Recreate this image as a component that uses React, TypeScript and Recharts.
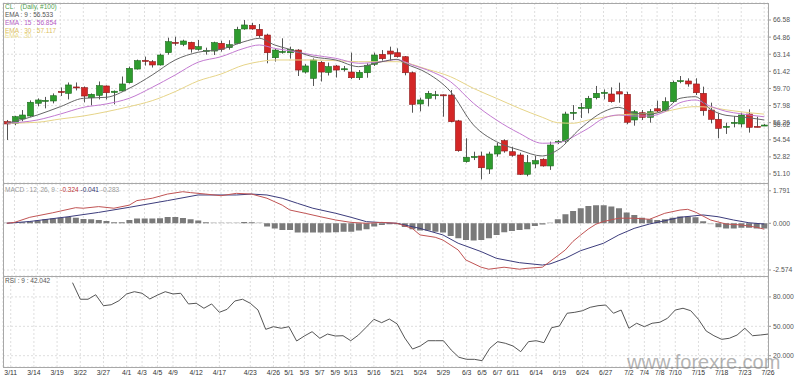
// CL 日线：K线 + EMA，MACD，RSI 三联图
import { ComposedChart, Bar, Line, XAxis, YAxis, CartesianGrid, ReferenceLine, Cell } from 'recharts';

const tickIdx = [1, 4, 7, 10, 13, 16, 18, 20, 22, 25, 28, 32, 35, 37, 39, 41, 43, 45, 48, 51, 54, 57, 60, 62, 64, 66, 69, 72, 75, 78, 81, 83, 85, 87, 90, 93, 96, 99];
const tickLabels = ['3/11', '3/14', '3/19', '3/22', '3/27', '4/1', '4/3', '4/5', '4/9', '4/12', '4/17', '4/23', '4/26', '5/1', '5/3', '5/7', '5/9', '5/13', '5/16', '5/21', '5/24', '5/29', '6/3', '6/5', '6/7', '6/11', '6/14', '6/19', '6/24', '6/27', '7/2', '7/4', '7/8', '7/10', '7/15', '7/18', '7/23', '7/26'];

const opens = [
  56.36, 56.2, 56.63, 56.93, 58.21, 58.45, 58.44, 59.4, 59.21, 59.85,
  59.78, 58.77, 59.01, 59.95, 59.3, 59.45, 60.28, 61.65, 62.52, 62.39,
  62.06, 63.3, 64.33, 64.13, 64.34, 63.63, 63.48, 63.46, 64.24, 63.8,
  64.24, 65.68, 66.04, 65.64, 65.07, 62.79, 63.36, 63.29, 63.56, 61.35,
  60.72, 62.33, 61.32, 61.96, 61.62, 61.35, 60.78, 61.28, 62.13, 63.13,
  63.46, 63.29, 62.89, 61.28, 58.14, 58.71, 59.01, 59.06, 59.04, 56.44,
  52.34, 52.82, 52.91, 51.6, 53.11, 54.45, 53.34, 53.01, 51.07, 52.11,
  52.58, 51.91, 54.33, 54.41, 57.24, 57.74, 57.7, 58.77, 59.24, 59.14,
  59.37, 59.11, 56.53, 57.26, 56.8, 57.66, 57.46, 58.37, 60.42, 60.45,
  60.15, 59.21, 57.53, 56.6, 55.83, 56.24, 56.13, 57.13, 55.89, 55.98,
];
const highs = [
  56.53, 56.95, 57.53, 58.5, 58.7, 58.85, 59.2, 59.8, 60.3, 60.3,
  59.9, 59.2, 60.4, 60.0, 59.5, 60.9, 61.9, 62.6, 62.9, 62.55,
  63.2, 64.8, 64.9, 64.6, 64.4, 64.57, 63.8, 64.4, 64.5, 64.55,
  65.9, 66.58, 66.3, 66.18, 65.2, 63.7, 64.74, 63.9, 63.65, 62.15,
  62.72, 62.45, 62.3, 62.06, 61.96, 63.3, 61.55, 62.23, 63.3, 63.56,
  63.9, 63.73, 62.96, 61.4, 58.78, 59.45, 59.45, 59.1, 59.54, 56.54,
  54.69, 53.34, 53.34, 53.34, 54.24, 54.58, 53.84, 53.24, 53.01, 52.91,
  52.68, 54.35, 54.51, 57.36, 58.03, 58.24, 58.95, 59.95, 59.6, 59.81,
  60.28, 59.37, 57.53, 57.53, 57.63, 58.47, 58.81, 60.49, 60.95, 60.72,
  60.72, 59.88, 58.27, 57.2, 56.26, 56.93, 57.26, 57.6, 56.86, 56.12,
];
const lows = [
  54.52, 56.0, 56.4, 56.85, 57.9, 57.7, 58.2, 58.94, 58.6, 59.5,
  58.3, 58.0, 58.6, 58.6, 58.1, 59.4, 60.2, 61.6, 62.0, 61.8,
  62.0, 63.1, 64.0, 63.95, 63.3, 63.5, 63.1, 63.06, 63.4, 63.6,
  64.15, 65.6, 65.6, 64.8, 62.23, 62.4, 63.2, 62.7, 60.95, 61.2,
  59.95, 60.4, 61.0, 60.8, 61.4, 60.65, 60.55, 60.78, 61.96, 62.5,
  62.5, 62.8, 61.02, 57.26, 57.4, 57.9, 58.6, 56.86, 56.3, 53.34,
  52.24, 52.5, 50.57, 51.1, 52.84, 53.24, 52.84, 51.0, 50.87, 51.68,
  51.84, 51.51, 54.11, 54.24, 56.53, 56.73, 57.2, 58.6, 58.6, 58.27,
  58.27, 56.1, 55.96, 56.53, 56.26, 57.3, 57.36, 58.27, 60.22, 59.88,
  59.04, 56.96, 56.19, 54.69, 55.13, 55.79, 55.79, 55.26, 55.79, 55.92,
];
const closes = [
  56.13, 56.86, 57.03, 58.31, 58.54, 58.5, 58.97, 59.35, 60.05, 59.78,
  58.94, 59.11, 59.98, 59.27, 59.42, 60.15, 61.72, 62.49, 62.45, 62.06,
  63.06, 64.4, 64.27, 64.47, 63.66, 63.9, 63.52, 64.3, 63.63, 64.1,
  65.64, 66.08, 65.68, 65.0, 63.29, 63.56, 63.42, 63.63, 61.55, 61.96,
  62.56, 61.35, 61.89, 61.55, 61.68, 60.78, 61.32, 62.03, 63.06, 62.69,
  63.16, 62.89, 61.28, 58.1, 58.54, 59.21, 59.07, 59.02, 56.36, 53.44,
  52.78, 52.86, 51.73, 53.11, 53.91, 53.41, 52.98, 51.07, 52.24, 52.44,
  51.91, 54.01, 54.38, 57.13, 57.3, 57.8, 58.71, 59.21, 59.3, 58.37,
  59.14, 56.3, 57.36, 56.8, 57.36, 57.43, 58.37, 60.32, 60.48, 60.15,
  59.27, 57.46, 56.6, 55.69, 55.89, 56.29, 57.03, 55.79, 55.84, 56.02,
];

// EMA 线按 [bar, 值] 取样
const ema9Pts: [number, number][] = [
  [0, 56.2], [4, 57.03], [7, 57.87], [10, 58.71], [13, 58.81], [16, 59.71], [19, 61.05], [22, 62.56],
  [25, 63.34], [28, 63.63], [31, 64.4], [33, 64.74], [35, 64.07], [37, 63.63], [40, 62.89], [43, 62.56],
  [46, 61.89], [49, 62.39], [51, 62.63], [52, 62.23], [55, 61.22], [58, 59.38], [61, 56.03], [64, 54.35],
  [67, 53.51], [70, 52.91], [72, 53.51], [75, 55.69], [78, 57.36], [80, 57.8], [82, 57.2], [84, 57.13],
  [86, 57.53], [88, 58.71], [90, 58.87], [92, 57.6], [94, 57.0], [96, 56.85], [99, 56.53],
];
const ema15Pts: [number, number][] = [
  [0, 56.2], [4, 56.53], [7, 57.13], [10, 57.8], [13, 58.14], [16, 58.71], [19, 59.81], [22, 61.05],
  [25, 62.34], [28, 62.89], [31, 63.73], [33, 64.07], [35, 63.73], [37, 63.49], [40, 63.06], [43, 62.73],
  [46, 62.23], [49, 62.39], [51, 62.6], [53, 62.06], [55, 61.55], [58, 60.38], [61, 58.21], [64, 56.53],
  [67, 55.19], [70, 54.19], [72, 54.25], [75, 55.25], [76, 55.69], [78, 56.7], [80, 57.03], [82, 56.93],
  [84, 56.93], [86, 57.36], [88, 58.27], [90, 58.54], [92, 57.9], [94, 57.4], [96, 57.15], [99, 56.85],
];
const ema30Pts: [number, number][] = [
  [0, 56.2], [4, 56.3], [7, 56.63], [10, 56.93], [13, 57.36], [16, 57.87], [19, 58.47], [22, 59.38],
  [25, 60.45], [28, 61.15], [31, 62.06], [33, 62.39], [35, 62.56], [40, 62.56], [43, 62.49], [46, 62.39],
  [51, 62.39], [55, 61.62], [58, 60.88], [61, 59.71], [64, 58.71], [67, 57.7], [70, 56.8], [72, 56.26],
  [74, 56.2], [76, 56.53], [78, 56.8], [80, 57.03], [82, 57.13], [84, 57.2], [86, 57.36], [88, 57.7],
  [90, 57.87], [92, 57.8], [94, 57.55], [96, 57.35], [99, 57.12],
];

const macdPts: [number, number][] = [
  [0, 0], [1, 0.05], [3, 0.33], [6, 0.58], [9, 0.86], [10, 0.83], [12, 0.92], [14, 0.83], [16, 1.0],
  [17, 1.25], [19, 1.38], [21, 1.61], [23, 1.74], [24, 1.69], [26, 1.61], [28, 1.52], [30, 1.65], [32, 1.61],
  [34, 1.38], [36, 1.0], [37, 0.73], [39, 0.55], [41, 0.36], [43, 0.18], [45, 0.05], [47, 0], [49, 0.05],
  [51, 0], [53, -0.28], [54, -0.64], [56, -0.77], [57, -0.92], [59, -1.47], [60, -2.02], [62, -2.42],
  [63, -2.53], [65, -2.42], [67, -2.53], [68, -2.48], [70, -2.42], [71, -2.11], [73, -1.47], [74, -1.0],
  [75, -0.65], [76, -0.32], [77, -0.05], [78, 0.1], [80, 0.28], [82, 0.28], [84, 0.22], [86, 0.55],
  [88, 0.73], [89, 0.77], [90, 0.62], [92, 0.18], [94, -0.04], [96, -0.09], [98, -0.22], [99, -0.324],
];
const signalPts: [number, number][] = [
  [0, 0], [3, 0.1], [8, 0.36], [12, 0.6], [16, 0.88], [21, 1.25], [25, 1.56], [30, 1.56], [32, 1.61],
  [34, 1.56], [36, 1.38], [38, 1.1], [40, 0.83], [43, 0.55], [45, 0.33], [47, 0.09], [49, 0.04], [51, 0],
  [54, -0.28], [57, -0.64], [59, -1.1], [62, -1.56], [64, -1.93], [67, -2.17], [70, -2.3], [71, -2.24],
  [73, -1.93], [75, -1.51], [78, -1.1], [80, -0.64], [82, -0.28], [84, -0.04], [86, 0.14], [88, 0.33],
  [91, 0.46], [93, 0.36], [95, 0.18], [97, 0.03], [99, -0.041],
];
const histVals = [
  0.0, 0.02, 0.05, 0.1, 0.15, 0.22, 0.26, 0.31, 0.35, 0.31,
  0.24, 0.22, 0.18, 0.13, 0.06, 0.06, 0.18, 0.26, 0.26, 0.26,
  0.28, 0.35, 0.35, 0.29, 0.22, 0.15, 0.06, 0.01, 0.01, 0.01,
  0.01, 0.07, 0.06, 0.01, -0.18, -0.28, -0.37, -0.37, -0.51, -0.51,
  -0.51, -0.51, -0.51, -0.5, -0.46, -0.46, -0.4, -0.33, -0.18, -0.09,
  -0.05, -0.05, -0.2, -0.33, -0.4, -0.4, -0.46, -0.51, -0.7, -0.83,
  -0.92, -0.95, -0.92, -0.83, -0.64, -0.5, -0.42, -0.37, -0.33, -0.15,
  -0.07, 0.0, 0.22, 0.5, 0.68, 0.83, 0.95, 0.99, 0.99, 0.92,
  0.83, 0.59, 0.46, 0.31, 0.22, 0.18, 0.22, 0.31, 0.37, 0.37,
  0.33, 0.11, -0.02, -0.22, -0.29, -0.29, -0.24, -0.24, -0.29, -0.283,
];
const rsiVals: (number | null)[] = [
  null, null, null, null, null, null, null, null, null, 94.5,
  77.6, 77.6, 82.2, 71.0, 72.0, 76.1, 83.0, 85.3, 83.7, 77.9,
  81.9, 85.3, 83.0, 83.7, 72.8, 73.5, 68.4, 72.8, 64.3, 67.3,
  75.8, 77.6, 73.5, 66.6, 46.9, 49.6, 48.0, 49.6, 35.0, 40.1,
  44.5, 37.8, 42.1, 40.1, 40.4, 35.3, 41.1, 49.0, 57.1, 53.7,
  57.4, 52.5, 38.0, 26.8, 29.9, 35.3, 35.3, 35.3, 25.8, 18.4,
  16.3, 16.3, 14.9, 27.6, 34.3, 32.7, 29.9, 24.1, 34.3, 35.3,
  33.3, 48.6, 50.3, 63.3, 64.3, 65.9, 69.4, 71.0, 71.7, 63.3,
  66.6, 48.0, 53.1, 49.6, 53.1, 54.1, 58.2, 66.6, 68.4, 65.9,
  57.1, 45.2, 40.4, 36.7, 37.8, 41.1, 48.0, 40.4, 41.1, 42.04,
];

const priceTicks = [51.1, 52.82, 54.54, 56.26, 57.98, 59.7, 61.42, 63.14, 64.86, 66.58];
const macdTicks = [-2.574, 0, 1.791];
const rsiTicks = [20, 50, 80];

const FONT = 'Liberation Sans, Arial, sans-serif';
const GRID = '#dedede';

const m9 = new Map(ema9Pts);
const m15 = new Map(ema15Pts);
const m30 = new Map(ema30Pts);
const mMacd = new Map(macdPts);
const mSig = new Map(signalPts);

const data = opens.map((o, i) => ({
  i,
  o,
  h: highs[i],
  l: lows[i],
  c: closes[i],
  range: [lows[i], highs[i]],
  ema9: m9.get(i) ?? null,
  ema15: m15.get(i) ?? null,
  ema30: m30.get(i) ?? null,
  macd: mMacd.get(i) ?? null,
  signal: mSig.get(i) ?? null,
  hist: histVals[i],
  rsi: rsiVals[i],
}));

const tickFmt = (v: number) => tickLabels[tickIdx.indexOf(v)] ?? '';
const axisTick = { fontSize: 6.8, fill: '#555', fontFamily: FONT };

function Candle(props: any) {
  const { x, y, width, height, payload } = props;
  if (!payload || height == null) return null;
  const { o, h, l, c } = payload;
  const k = h - l > 0 ? height / (h - l) : 0;
  const cx = Math.round(x + width / 2) + 0.5;
  const up = c >= o;
  const top = y + (h - Math.max(o, c)) * k;
  const bh = Math.max(Math.abs(o - c) * k, 1);
  return (
    <g>
      <line x1={cx} x2={cx} y1={y} y2={y + height} stroke="#555" strokeWidth={1} />
      <rect
        x={cx - 3}
        y={top}
        width={6}
        height={bh}
        fill={up ? '#2e9c2e' : '#d42626'}
        stroke={up ? '#1c6a1c' : '#8c1a1a'}
        strokeWidth={0.6}
      />
    </g>
  );
}

function Frame({ top, height }: { top: number; height: number }) {
  return (
    <div
      style={{
        position: 'absolute', left: 3, top, width: 766, height,
        border: '1px solid #a8a8a8', boxSizing: 'border-box', pointerEvents: 'none',
      }}
    />
  );
}

function Label({ top, left = 5, color, children }: { top: number; left?: number; color: string; children: any }) {
  return (
    <div
      style={{
        position: 'absolute', left, top, fontSize: 6.5, lineHeight: '10px',
        fontFamily: FONT, color, whiteSpace: 'nowrap',
      }}
    >
      {children}
    </div>
  );
}

export default function App() {
  return (
    <div style={{ position: 'absolute', left: 0, top: 0, width: 800, height: 378, background: '#fff', overflow: 'hidden' }}>
      {/* 主图：K线 + EMA */}
      <div style={{ position: 'absolute', left: 0, top: 0 }}>
        <ComposedChart width={800} height={184} data={data} margin={{ top: 3, right: 0, bottom: 1, left: 3 }}>
          <CartesianGrid stroke={GRID} strokeDasharray="2 2" />
          <XAxis dataKey="i" type="category" ticks={tickIdx} interval={0} hide />
          <YAxis
            orientation="right"
            width={32}
            domain={[50.195, 68.29]}
            ticks={priceTicks}
            interval={0}
            allowDataOverflow
            tickFormatter={(v: number) => v.toFixed(2)}
            tick={axisTick}
            tickSize={3}
            tickMargin={2}
            axisLine={false}
            tickLine={{ stroke: '#999' }}
          />
          <ReferenceLine
            y={56.02}
            stroke="none"
            label={{ value: '56.02', position: 'right', offset: 5, fontSize: 6.8, fill: '#555', fontFamily: FONT }}
          />
          <Line type="monotone" dataKey="ema30" stroke="#e6d488" strokeWidth={1} dot={false} connectNulls isAnimationActive={false} />
          <Line type="monotone" dataKey="ema15" stroke="#c27ad0" strokeWidth={1} dot={false} connectNulls isAnimationActive={false} />
          <Line type="monotone" dataKey="ema9" stroke="#666" strokeWidth={1} dot={false} connectNulls isAnimationActive={false} />
          <Bar dataKey="range" barSize={6} shape={<Candle />} isAnimationActive={false} />
        </ComposedChart>
      </div>

      {/* MACD */}
      <div style={{ position: 'absolute', left: 0, top: 183 }}>
        <ComposedChart width={800} height={94} data={data} margin={{ top: 1, right: 0, bottom: 1, left: 3 }}>
          <CartesianGrid stroke={GRID} strokeDasharray="2 2" />
          <XAxis dataKey="i" type="category" ticks={tickIdx} interval={0} hide />
          <YAxis
            orientation="right"
            width={32}
            domain={[-2.904, 2.165]}
            ticks={macdTicks}
            interval={0}
            allowDataOverflow
            tickFormatter={(v: number) => v.toFixed(3)}
            tick={axisTick}
            tickSize={3}
            tickMargin={2}
            axisLine={false}
            tickLine={{ stroke: '#999' }}
          />
          <Bar dataKey="hist" barSize={6} minPointSize={1} isAnimationActive={false}>
            {data.map((d) => (
              <Cell key={d.i} fill={Math.abs(d.hist) < 0.03 ? '#c8c8c8' : '#7a7a7a'} />
            ))}
          </Bar>
          <Line type="linear" dataKey="signal" stroke="#3c3c7c" strokeWidth={1} dot={false} connectNulls isAnimationActive={false} />
          <Line type="linear" dataKey="macd" stroke="#c05454" strokeWidth={1} dot={false} connectNulls isAnimationActive={false} />
        </ComposedChart>
      </div>

      {/* RSI */}
      <div style={{ position: 'absolute', left: 0, top: 276 }}>
        <ComposedChart width={800} height={102} data={data} margin={{ top: 1, right: 0, bottom: 0, left: 3 }}>
          <CartesianGrid stroke={GRID} strokeDasharray="2 2" />
          <XAxis
            dataKey="i"
            type="category"
            ticks={tickIdx}
            interval={0}
            height={11}
            tickFormatter={tickFmt}
            tick={{ fontSize: 6.8, fill: '#333', fontFamily: FONT }}
            tickLine={false}
            tickSize={2}
            tickMargin={1}
            axisLine={false}
          />
          <YAxis
            orientation="right"
            width={32}
            domain={[8.47, 100.3]}
            ticks={rsiTicks}
            interval={0}
            allowDataOverflow
            tickFormatter={(v: number) => v.toFixed(3)}
            tick={axisTick}
            tickSize={3}
            tickMargin={2}
            axisLine={false}
            tickLine={{ stroke: '#999' }}
          />
          <Line type="linear" dataKey="rsi" stroke="#555" strokeWidth={1} dot={false} isAnimationActive={false} />
        </ComposedChart>
      </div>

      <Frame top={3} height={181} />
      <Frame top={183} height={94} />
      <Frame top={276} height={92} />

      {/* 图例文字 */}
      <Label top={1.7} color="#4f9f4f">
        CL<span style={{ marginLeft: 7 }}>(Daily, #100)</span>
      </Label>
      <Label top={10} color="#555">EMA : 9 : 56.533</Label>
      <Label top={18.3} color="#b45cc4">EMA : 15 : 56.854</Label>
      <Label top={25.7} color="#dcc060">EMA : 30 : 57.117</Label>
      <Label top={30.7} color="#eadc8c">EMA : 30</Label>
      <Label top={185} color="#999">
        MACD : 12, 26, 9 : <span style={{ color: '#c03a3a' }}>-0.324</span>{' '}
        <span style={{ color: '#33336e' }}>-0.041</span> -0.283
      </Label>
      <Label top={275.7} color="#555">RSI : 9 : 42.042</Label>

      {/* 水印 */}
      <div
        style={{
          position: 'absolute', left: 627, top: 351, fontSize: 20, fontFamily: FONT,
          color: 'rgba(130,130,130,0.6)', whiteSpace: 'nowrap', lineHeight: 'normal',
        }}
      >
        www.forexre.com
      </div>
    </div>
  );
}
